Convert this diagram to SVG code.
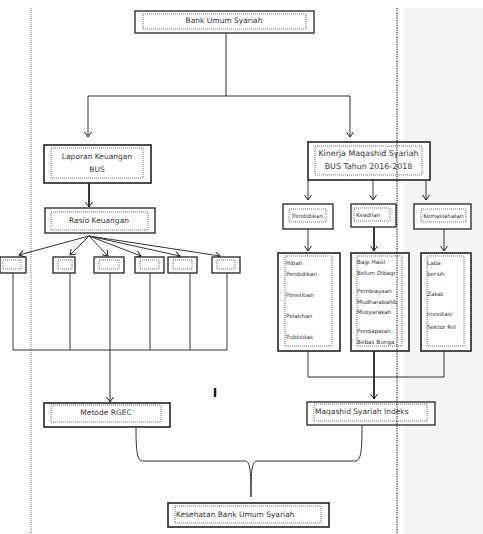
<svg xmlns="http://www.w3.org/2000/svg" width="483" height="534" viewBox="0 0 483 534">
<style>
.ob{fill:#fff;stroke:#222;stroke-width:1.3}
.ib{fill:none;stroke:#444;stroke-width:0.8;stroke-dasharray:1,1}
.t{font-family:"DejaVu Sans",Verdana,sans-serif;font-size:7.5px;fill:#333}
.ts{font-family:"DejaVu Sans",Verdana,sans-serif;font-size:5.7px;fill:#333}
.c{fill:none;stroke:#333;stroke-width:1}
.ct{fill:none;stroke:#222;stroke-width:1.8}
</style>
<defs>
<marker id="a" markerWidth="8" markerHeight="8" refX="6" refY="4" orient="auto" markerUnits="userSpaceOnUse">
<path d="M1,0.5 L6,4 L1,7.5" fill="none" stroke="#222" stroke-width="1"/>
</marker>
</defs>
<rect x="0" y="0" width="483" height="534" fill="#fff"/>
<rect x="404" y="8" width="79" height="526" fill="#f4f4f4"/>
<line x1="31" y1="8" x2="31" y2="534" stroke="#777" stroke-width="1" stroke-dasharray="1,1"/>

<g id="connectors">
<path class="c" d="M226,33 V96 M88,96 H350"/>
<path class="c" d="M88,96 V137" marker-end="url(#a)"/>
<path class="c" d="M350,96 V137" marker-end="url(#a)"/>
<path class="ct" d="M89,183 V207" marker-end="url(#a)"/>
<path class="c" d="M89,236 L19,255" marker-end="url(#a)"/>
<path class="c" d="M89,236 L70,255" marker-end="url(#a)"/>
<path class="c" d="M89,236 L108,256" marker-end="url(#a)"/>
<path class="c" d="M89,236 L141,256" marker-end="url(#a)"/>
<path class="c" d="M89,236 L180,256" marker-end="url(#a)"/>
<path class="c" d="M89,236 L220,256" marker-end="url(#a)"/>
<path class="c" d="M13,273 V350 M70,273 V350 M110,273 V350 M150,273 V350 M190,273 V350 M227,273 V350 M13,350 H227"/>
<path class="c" d="M110,350 V402" marker-end="url(#a)"/>
<path class="c" d="M308,180 V200" marker-end="url(#a)"/>
<path class="c" d="M373,180 V200" marker-end="url(#a)"/>
<path class="c" d="M426,180 V200" marker-end="url(#a)"/>
<path class="c" d="M308,229 V251" marker-end="url(#a)"/>
<path class="ct" d="M374,227 V251" marker-end="url(#a)"/>
<path class="c" d="M444,229 V251" marker-end="url(#a)"/>
<path class="c" d="M308,351 V377 H444 M444,351 V377"/>
<path class="ct" d="M374,351 V399" marker-end="url(#a)"/>
<path class="c" d="M136,427 C136,452 137,461 143,461 L245,461 C250,461 251,470 251,497"/>
<path class="c" d="M362,425 C362,452 361,461 355,461 L257,461 C252,461 251,470 251,497"/>
</g>

<g id="bank-umum-syariah">
<rect class="ob" x="135" y="11" width="179" height="22"/>
<rect class="ib" x="143" y="14" width="163" height="15"/>
<text class="t" x="224" y="23" text-anchor="middle">Bank Umum Syariah</text>
</g>

<g id="laporan-keuangan">
<rect class="ob" x="44" y="145" width="107" height="38" style="stroke-width:1.6"/>
<rect class="ib" x="51" y="148" width="92" height="30"/>
<text class="t" x="97" y="158.5" text-anchor="middle">Laporan Keuangan</text>
<text class="t" x="97" y="171.5" text-anchor="middle">BUS</text>
</g>

<g id="rasio-keuangan">
<rect class="ob" x="45" y="208" width="110" height="25"/>
<rect class="ib" x="51" y="212" width="97" height="18"/>
<text class="t" x="99" y="223" text-anchor="middle">Rasio Keuangan</text>
</g>

<g id="rasio-1"><rect class="ob" x="0" y="257" width="26" height="16"/><rect class="ib" x="3" y="260" width="18" height="9"/></g>
<g id="rasio-2"><rect class="ob" x="53" y="257" width="22" height="16"/><rect class="ib" x="58" y="260" width="14" height="9"/></g>
<g id="rasio-3"><rect class="ob" x="94" y="257" width="30" height="16"/><rect class="ib" x="99" y="260" width="20" height="9"/></g>
<g id="rasio-4"><rect class="ob" x="135" y="257" width="29" height="16"/><rect class="ib" x="140" y="260" width="19" height="9"/></g>
<g id="rasio-5"><rect class="ob" x="168" y="257" width="29" height="16"/><rect class="ib" x="173" y="260" width="19" height="9"/></g>
<g id="rasio-6"><rect class="ob" x="212" y="257" width="28" height="16"/><rect class="ib" x="217" y="260" width="18" height="9"/></g>

<g id="metode-rgec">
<rect class="ob" x="44" y="403" width="126" height="24" style="stroke-width:1.6"/>
<rect class="ib" x="51" y="405" width="110" height="17"/>
<text class="t" x="106" y="415" text-anchor="middle">Metode RGEC</text>
</g>

<text x="215" y="397" font-family="DejaVu Sans,sans-serif" font-size="12" font-weight="bold" fill="#111" text-anchor="middle">I</text>

<g id="kinerja-maqashid">
<rect class="ob" x="308" y="142" width="122" height="38" style="stroke-width:1.6"/>
<rect class="ib" x="315" y="146" width="107" height="29"/>
<text class="t" x="368.5" y="155.5" text-anchor="middle" style="font-size:7.9px">Kinerja Maqashid Syariah</text>
<text class="t" x="368.5" y="168.5" text-anchor="middle" style="font-size:7.9px">BUS Tahun 2016-2018</text>
</g>

<g id="pendidikan">
<rect class="ob" x="283" y="204" width="50" height="25"/>
<rect class="ib" x="289" y="209" width="37" height="13"/>
<text class="ts" x="307.5" y="217.5" text-anchor="middle">Pendidikan</text>
</g>
<g id="keadilan">
<rect class="ob" x="351" y="204" width="45" height="23"/>
<rect class="ib" x="354" y="208" width="36" height="13"/>
<text class="ts" x="356" y="216.5">Keadilan</text>
</g>
<g id="kemaslahatan">
<rect class="ob" x="414" y="204" width="57" height="25"/>
<rect class="ib" x="421" y="209" width="45" height="13"/>
<text class="ts" x="443.5" y="217.5" text-anchor="middle">Kemaslahatan</text>
</g>

<g id="list-pendidikan">
<rect class="ob" x="278" y="253" width="62" height="98" style="stroke-width:1.6"/>
<rect class="ib" x="285" y="256" width="47" height="90"/>
<text class="ts" x="286" y="265">Hibah</text>
<text class="ts" x="286" y="276">Pendidikan</text>
<text class="ts" x="286" y="297">Penelitian</text>
<text class="ts" x="286" y="318">Pelatihan</text>
<text class="ts" x="286" y="339">Publisitas</text>
</g>
<g id="list-keadilan">
<rect class="ob" x="351" y="253" width="58" height="98" style="stroke-width:1.6"/>
<rect class="ib" x="357" y="256" width="45" height="90"/>
<text class="ts" x="357" y="264">Bagi Hasil</text>
<text class="ts" x="357" y="275">Belum Dibagi</text>
<text class="ts" x="357" y="293">Pembiayaan</text>
<text class="ts" x="357" y="303.5">Mudharabah&amp;</text>
<text class="ts" x="357" y="314">Musyarakah</text>
<text class="ts" x="357" y="333">Pendapatan</text>
<text class="ts" x="357" y="344">Bebas Bunga</text>
</g>
<g id="list-kemaslahatan">
<rect class="ob" x="421" y="253" width="50" height="98" style="stroke-width:1.6"/>
<rect class="ib" x="427" y="256" width="37" height="90"/>
<text class="ts" x="427" y="265">Laba</text>
<text class="ts" x="427" y="276">bersih</text>
<text class="ts" x="427" y="296">Zakat</text>
<text class="ts" x="427" y="316">Investasi</text>
<text class="ts" x="427" y="329">Sektor Riil</text>
</g>

<g id="maqashid-indeks">
<rect class="ob" x="307" y="402" width="128" height="23"/>
<rect class="ib" x="314" y="404" width="113" height="17"/>
<text class="t" x="315" y="414">Maqashid Syariah Indeks</text>
</g>

<g id="kesehatan-bus">
<rect class="ob" x="168" y="503" width="161" height="24" style="stroke-width:1.6"/>
<rect class="ib" x="175" y="506" width="146" height="17"/>
<text class="t" x="176" y="517">Kesehatan Bank Umum Syariah</text>
</g>

<line x1="397" y1="8" x2="397" y2="534" stroke="#222" stroke-width="1.2" stroke-dasharray="1.2,1.2"/>
</svg>
